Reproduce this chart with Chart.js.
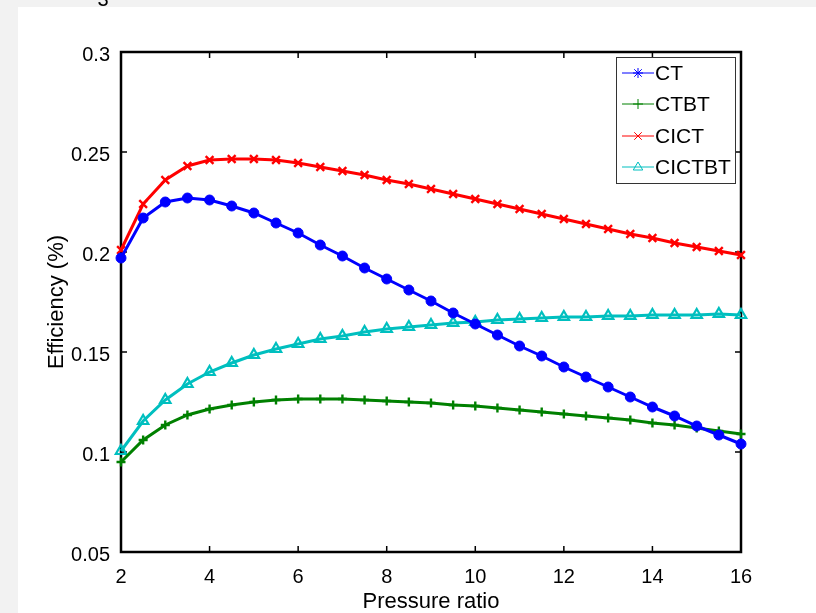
<!DOCTYPE html>
<html>
<head>
<meta charset="utf-8">
<script src="https://cdn.jsdelivr.net/npm/chart.js@4/dist/chart.umd.min.js"></script>
<style>
  html, body { margin: 0; padding: 0; background: #f2f2f2; }
  #bg { position: absolute; left: 18px; top: 7px; width: 798px; height: 606px; background: #ffffff; }
  #wrap { position: absolute; left: 0; top: 0; width: 816px; height: 613px; }
</style>
</head>
<body>
<div id="bg"></div>
<div id="wrap"><canvas id="c" width="816" height="613"></canvas></div>
<script>
// ---- Data ----
const pressureRatio = [2, 2.5, 3, 3.5, 4, 4.5, 5, 5.5, 6, 6.5, 7, 7.5, 8, 8.5, 9, 9.5, 10,
                       10.5, 11, 11.5, 12, 12.5, 13, 13.5, 14, 14.5, 15, 15.5, 16];
const seriesNames = ['CT', 'CTBT', 'CICT', 'CICTBT'];
const ctValues = [0.197, 0.217, 0.225, 0.227, 0.226, 0.223, 0.2195, 0.2145, 0.2095, 0.2035,
                  0.198, 0.192, 0.1865, 0.181, 0.1755, 0.1695, 0.164, 0.1585, 0.153, 0.148,
                  0.1425, 0.1375, 0.1325, 0.1275, 0.1225, 0.118, 0.113, 0.1085, 0.104];
const ctbtValues = [0.095, 0.106, 0.1135, 0.1185, 0.1215, 0.1235, 0.125, 0.126, 0.1265, 0.1265,
                    0.1265, 0.126, 0.1255, 0.125, 0.1245, 0.1235, 0.123, 0.122, 0.121, 0.12,
                    0.119, 0.118, 0.117, 0.116, 0.1145, 0.1135, 0.112, 0.1105, 0.109];
const cictValues = [0.201, 0.224, 0.236, 0.243, 0.246, 0.2465, 0.2465, 0.246, 0.2445, 0.2425,
                    0.2405, 0.2385, 0.236, 0.234, 0.2315, 0.229, 0.2265, 0.224, 0.2215, 0.219,
                    0.2165, 0.214, 0.2115, 0.209, 0.207, 0.2045, 0.2025, 0.2005, 0.1985];
const cictbtValues = [0.1005, 0.1155, 0.126, 0.134, 0.14, 0.1445, 0.1485, 0.1515, 0.154, 0.1565,
                      0.158, 0.16, 0.1615, 0.1625, 0.1635, 0.1645, 0.165, 0.166, 0.1665, 0.167,
                      0.1675, 0.1675, 0.168, 0.168, 0.1685, 0.1685, 0.1685, 0.169, 0.1685];
const xTickLabels = [2, 4, 6, 8, 10, 12, 14, 16];
const yTickLabels = [0.05, 0.1, 0.15, 0.2, 0.25, 0.3];
const xTitle = 'Pressure ratio';
const yTitle = 'Efficiency (%)';

const FONT = '"Liberation Sans", Arial, Helvetica, sans-serif';
const COLORS = ['#0000ff', '#008000', '#ff0000', '#00bfbf'];
const LEGEND_STYLES = ['star', 'cross', 'crossRot', 'triangle'];

function toPoints(vals) { return pressureRatio.map((x, i) => ({ x: x, y: vals[i] })); }

function drawMarker(ctx, style, x, y, r) {
  ctx.beginPath();
  if (style === 'star' || style === 'cross') {
    ctx.moveTo(x - r, y); ctx.lineTo(x + r, y);
    ctx.moveTo(x, y - r); ctx.lineTo(x, y + r);
  }
  if (style === 'star' || style === 'crossRot') {
    const d = r * 0.75;
    ctx.moveTo(x - d, y - d); ctx.lineTo(x + d, y + d);
    ctx.moveTo(x - d, y + d); ctx.lineTo(x + d, y - d);
  }
  if (style === 'triangle') {
    ctx.moveTo(x, y - r);
    ctx.lineTo(x + r * 0.95, y + r * 0.6);
    ctx.lineTo(x - r * 0.95, y + r * 0.6);
    ctx.closePath();
  }
  ctx.stroke();
}

const framePlugin = {
  id: 'frame',
  beforeDatasetsDraw(chart) {
    const { ctx, chartArea: a, scales } = chart;
    ctx.save();
    ctx.strokeStyle = '#000';
    ctx.lineWidth = 1.5;
    const tl = 6;
    xTickLabels.forEach(v => {
      const px = scales.x.getPixelForValue(v);
      ctx.beginPath();
      ctx.moveTo(px, a.bottom); ctx.lineTo(px, a.bottom - tl);
      ctx.moveTo(px, a.top); ctx.lineTo(px, a.top + tl);
      ctx.stroke();
    });
    yTickLabels.forEach(v => {
      const py = scales.y.getPixelForValue(v);
      ctx.beginPath();
      ctx.moveTo(a.left, py); ctx.lineTo(a.left + tl, py);
      ctx.moveTo(a.right, py); ctx.lineTo(a.right - tl, py);
      ctx.stroke();
    });
    ctx.lineWidth = 2.5;
    ctx.strokeRect(a.left, a.top, a.right - a.left, a.bottom - a.top);
    ctx.restore();
  },
  afterDraw(chart) {
    const { ctx, chartArea: a } = chart;
    ctx.save();
    // axis titles
    ctx.fillStyle = '#000';
    ctx.font = '22px ' + FONT;
    ctx.textAlign = 'center';
    ctx.textBaseline = 'alphabetic';
    ctx.fillText(xTitle, (a.left + a.right) / 2, 608);
    ctx.save();
    ctx.translate(63, (a.top + a.bottom) / 2);
    ctx.rotate(-Math.PI / 2);
    ctx.fillText(yTitle, 0, 0);
    ctx.restore();
    // stray figure-number remnant at top
    ctx.font = '20px ' + FONT;
    ctx.fillText('3', 103, 6);

    // legend
    const lx = 616, ly = 57, lw = 119, lh = 126;
    ctx.fillStyle = '#fff';
    ctx.fillRect(lx, ly, lw, lh);
    ctx.strokeStyle = '#333';
    ctx.lineWidth = 1;
    ctx.strokeRect(lx + 0.5, ly + 0.5, lw, lh);
    const rows = [73, 104, 136, 167];
    ctx.font = '21px ' + FONT;
    ctx.textAlign = 'left';
    ctx.textBaseline = 'middle';
    chart.data.datasets.forEach((ds, i) => {
      const y = rows[i];
      ctx.strokeStyle = ds.borderColor;
      ctx.lineWidth = 1;
      ctx.beginPath();
      ctx.moveTo(622, y); ctx.lineTo(654, y);
      ctx.stroke();
      drawMarker(ctx, LEGEND_STYLES[i], 638, y, 5);
      ctx.fillStyle = '#000';
      ctx.fillText(ds.label, 655, y + 1);
    });
    ctx.restore();
  }
};

const datasets = [
  { label: seriesNames[0], data: toPoints(ctValues), borderColor: COLORS[0], backgroundColor: COLORS[0],
    pointStyle: 'circle', pointRadius: 5, pointBorderWidth: 1, borderWidth: 3 },
  { label: seriesNames[1], data: toPoints(ctbtValues), borderColor: COLORS[1], backgroundColor: COLORS[1],
    pointStyle: 'cross', pointRadius: 4.5, pointBorderWidth: 2.4, borderWidth: 3 },
  { label: seriesNames[2], data: toPoints(cictValues), borderColor: COLORS[2], backgroundColor: COLORS[2],
    pointStyle: 'crossRot', pointRadius: 5.5, pointBorderWidth: 2.4, borderWidth: 3 },
  { label: seriesNames[3], data: toPoints(cictbtValues), borderColor: COLORS[3], backgroundColor: 'rgba(0,0,0,0)',
    pointStyle: 'triangle', pointRadius: 6, pointBorderWidth: 2.2, borderWidth: 3 }
].map(d => Object.assign(d, { tension: 0, fill: false, clip: false, pointHoverRadius: d.pointRadius }));

new Chart(document.getElementById('c'), {
  type: 'line',
  data: { datasets: datasets },
  options: {
    responsive: false,
    animation: false,
    events: [],
    layout: { padding: { left: 0, top: 52, right: 75, bottom: 0 } },
    plugins: { legend: { display: false }, tooltip: { enabled: false } },
    scales: {
      x: {
        type: 'linear', min: 2, max: 16,
        afterBuildTicks: s => { s.ticks = xTickLabels.map(v => ({ value: v })); },
        afterFit: s => { s.height = 61; },
        grid: { display: false },
        border: { display: false },
        ticks: { color: '#000', font: { family: FONT, size: 20 }, padding: 5, maxRotation: 0,
                 callback: v => String(v) }
      },
      y: {
        type: 'linear', min: 0.05, max: 0.3,
        afterBuildTicks: s => { s.ticks = yTickLabels.map(v => ({ value: v })); },
        afterFit: s => { s.width = 121; },
        grid: { display: false },
        border: { display: false },
        ticks: { color: '#000', font: { family: FONT, size: 20 }, padding: 3, labelOffset: 3,
                 callback: v => String(Number(v.toFixed(2))) }
      }
    }
  },
  plugins: [framePlugin]
});
</script>
</body>
</html>
